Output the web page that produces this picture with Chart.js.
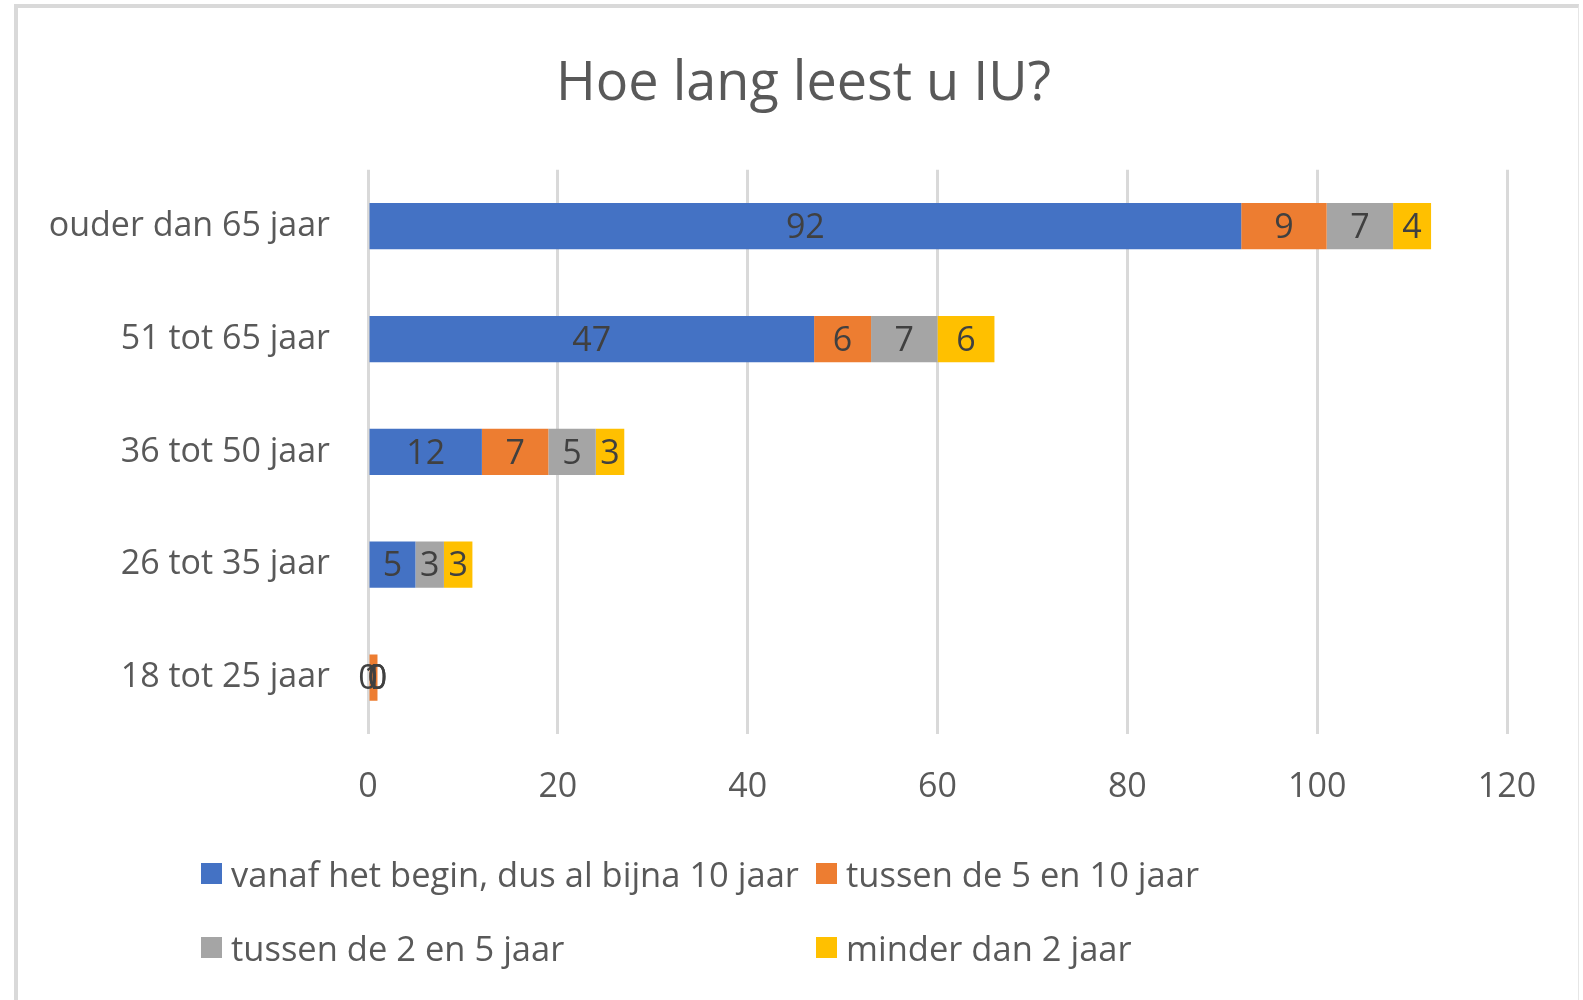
<!DOCTYPE html>
<html>
<head>
<meta charset="utf-8">
<script src="https://cdn.jsdelivr.net/npm/chart.js@4.4.1/dist/chart.umd.min.js"></script>
<style>
  html, body { margin: 0; padding: 0; background: #fff; }
  #frame { position: absolute; left: 14px; top: 4px; width: 1565px; height: 996px;
           border-top: 4px solid #d9d9d9; border-left: 4px solid #d9d9d9; border-right: 1px solid #e6e6e6; box-sizing: border-box; }
  #wrap { position: absolute; left: 0; top: 0; width: 1583px; height: 1000px; }
  #legend { position: absolute; left: 0; top: 0; width: 1583px; height: 1000px; pointer-events: none;
            font-family: "Open Sans", "Noto Sans", sans-serif; color: #595959; }
  .item { position: absolute; display: flex; align-items: center; white-space: nowrap; }
  .box { width: 21px; height: 21px; margin-right: 9px; }
</style>
</head>
<body>
<div id="frame"></div>
<div id="wrap"><canvas id="c" width="1583" height="1000"></canvas></div>
<div id="legend"></div>
<script>
const categories = ["18 tot 25 jaar", "26 tot 35 jaar", "36 tot 50 jaar", "51 tot 65 jaar", "ouder dan 65 jaar"];
const seriesNames = ["vanaf het begin, dus al bijna 10 jaar", "tussen de 5 en 10 jaar", "tussen de 2 en 5 jaar", "minder dan 2 jaar"];
const vanafBegin = [0, 5, 12, 47, 92];
const tussen5en10 = [1, null, 7, 6, 9];
const tussen2en5 = [0, 3, 5, 7, 7];
const minderDan2 = [0, 3, 3, 6, 4];
const xTicks = [0, 20, 40, 60, 80, 100, 120];
const titleText = "Hoe lang leest u IU?";

const colors = ["#4472C4", "#ED7D31", "#A5A5A5", "#FFC000"];
const FONT = '"Open Sans", "Noto Sans", sans-serif';
const textColor = "#595959";

const seriesValues = [vanafBegin, tussen5en10, tussen2en5, minderDan2];
const datasets = seriesNames.map((n, i) => ({
  label: n, data: seriesValues[i], backgroundColor: colors[i],
  borderWidth: 0, categoryPercentage: 0.82, barPercentage: 0.5
}));

const valueLabels = {
  id: "valueLabels",
  afterDatasetsDraw(chart) {
    const ctx = chart.ctx;
    ctx.save();
    ctx.font = "34px " + FONT;
    ctx.fillStyle = "#404040";
    ctx.textAlign = "center";
    ctx.textBaseline = "middle";
    chart.data.datasets.forEach((ds, di) => {
      const meta = chart.getDatasetMeta(di);
      meta.data.forEach((el, i) => {
        const v = ds.data[i];
        if (v === null || v === undefined) return;
        const p = el.getProps(["x", "y", "base"], true);
        ctx.fillText(String(v), (p.x + p.base) / 2, p.y + 2);
      });
    });
    ctx.restore();
  }
};

// centre the title over the whole frame rather than the padded area
const titleShift = {
  id: "titleShift",
  afterLayout(chart) {
    if (chart.titleBlock) chart.titleBlock.left += 100;
  }
};

const chart = new Chart(document.getElementById("c"), {
  type: "bar",
  data: { labels: categories, datasets },
  options: {
    indexAxis: "y",
    responsive: false,
    animation: false,
    layout: { padding: { left: 0, right: 76, top: 0, bottom: 186 } },
    plugins: {
      legend: { display: false },
      tooltip: { enabled: false },
      title: {
        display: true, text: titleText, color: textColor,
        font: { family: FONT, size: 54, weight: "normal" },
        padding: { top: 52, bottom: 53 }
      }
    },
    scales: {
      x: {
        stacked: true, min: 0, max: 120,
        afterBuildTicks(s) { s.ticks = xTicks.map(v => ({ value: v })); },
        grid: { color: "#d9d9d9", lineWidth: 3, drawTicks: false },
        border: { display: false },
        ticks: { color: textColor, font: { family: FONT, size: 34 }, padding: 33 },
        afterFit(s) { s.height = 80; }
      },
      y: {
        stacked: true, reverse: true,
        grid: { display: false },
        border: { display: false },
        ticks: { color: textColor, font: { family: FONT, size: 34 }, padding: 30 },
        afterFit(s) { s.width = 368; }
      }
    }
  },
  plugins: [valueLabels, titleShift]
});

// HTML legend in two aligned columns
const legend = document.getElementById("legend");
const legendPos = [[201, 873], [816, 873], [201, 947], [816, 947]];
seriesNames.forEach((n, i) => {
  const it = document.createElement("div");
  it.className = "item";
  it.style.left = legendPos[i][0] + "px";
  it.style.top = (legendPos[i][1] - 22) + "px";
  it.style.height = "44px";
  it.style.fontSize = "34.5px";
  const b = document.createElement("div");
  b.className = "box"; b.style.background = colors[i];
  const t = document.createElement("span"); t.textContent = n;
  it.appendChild(b); it.appendChild(t);
  legend.appendChild(it);
});
</script>
</body>
</html>
